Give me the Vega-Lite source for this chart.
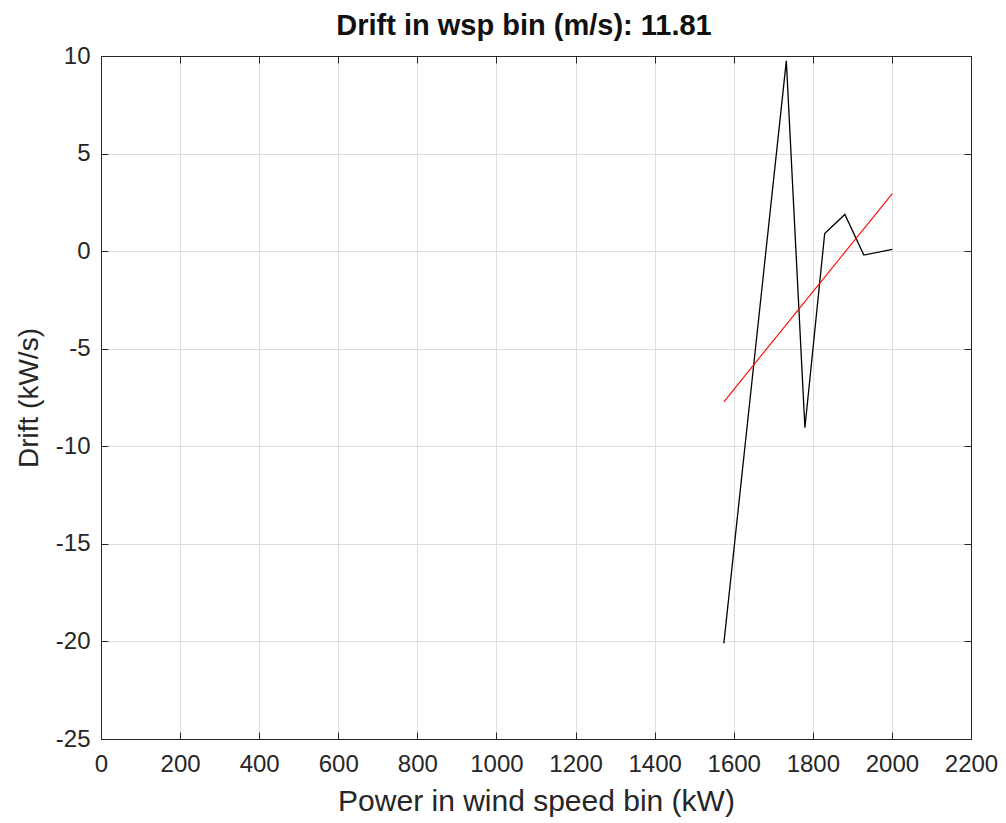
{
  "$schema": "https://vega.github.io/schema/vega-lite/v6.json",
  "width": 870,
  "height": 683,
  "autosize": "none",
  "padding": {"left": 101, "top": 56, "right": 35, "bottom": 84},
  "background": "white",
  "config": {
    "font": "Liberation Sans",
    "view": {"stroke": null},
    "axis": {
      "domainColor": "#262626",
      "domainWidth": 1,
      "tickColor": "#262626",
      "labelColor": "#262626",
      "titleColor": "#262626",
      "gridColor": "#dedede",
      "labelFontSize": 24,
      "titleFontSize": 28,
      "titleFontWeight": "normal",
      "labelFlush": false,
      "labelOverlap": false,
      "tickSize": -7
    }
  },
  "title": {
    "text": "Drift in wsp bin (m/s): 11.81",
    "fontSize": 29,
    "fontWeight": "bold",
    "color": "#111111",
    "offset": 3,
    "dx": -12
  },
  "datasets": {
    "drift": [
      {"power": 1575, "drift": -20.1},
      {"power": 1733, "drift": 9.75},
      {"power": 1780, "drift": -9.05},
      {"power": 1830, "drift": 0.9},
      {"power": 1881, "drift": 1.88},
      {"power": 1929, "drift": -0.2},
      {"power": 2001, "drift": 0.09}
    ],
    "fit": [
      {"power": 1575, "drift": -7.72},
      {"power": 2001, "drift": 2.95}
    ]
  },
  "layer": [
    {
      "data": {"name": "drift"},
      "mark": {"type": "line", "color": "black", "strokeWidth": 1.3},
      "encoding": {
        "x": {
          "field": "power", "type": "quantitative",
          "scale": {"domain": [0, 2200], "nice": false, "zero": false},
          "axis": {
            "title": "Power in wind speed bin (kW)",
            "titleFontSize": 30,
            "values": [0, 200, 400, 600, 800, 1000, 1200, 1400, 1600, 1800, 2000, 2200],
            "labelExpr": "datum.value + ''",
            "labelPadding": 20,
            "titlePadding": 10,
            "grid": true
          }
        },
        "y": {
          "field": "drift", "type": "quantitative",
          "scale": {"domain": [-25, 10], "nice": false, "zero": false},
          "axis": {
            "title": "Drift (kW/s)",
            "values": [-25, -20, -15, -10, -5, 0, 5, 10],
            "labelExpr": "datum.value + ''",
            "labelPadding": 18,
            "titlePadding": 12,
            "grid": true
          }
        }
      }
    },
    {
      "data": {"name": "fit"},
      "mark": {"type": "line", "color": "#ff0000", "strokeWidth": 1.1},
      "encoding": {
        "x": {"field": "power", "type": "quantitative", "axis": null},
        "y": {"field": "drift", "type": "quantitative", "axis": null}
      }
    },
    {
      "data": {"name": "fit"},
      "mark": {"type": "point", "opacity": 0},
      "encoding": {
        "x": {
          "field": "power", "type": "quantitative",
          "axis": {"orient": "top", "values": [0, 200, 400, 600, 800, 1000, 1200, 1400, 1600, 1800, 2000, 2200], "labels": false, "title": null, "grid": false}
        },
        "y": {
          "field": "drift", "type": "quantitative",
          "axis": {"orient": "right", "values": [-25, -20, -15, -10, -5, 0, 5, 10], "labels": false, "title": null, "grid": false}
        }
      }
    }
  ],
  "resolve": {"axis": {"x": "independent", "y": "independent"}}
}
